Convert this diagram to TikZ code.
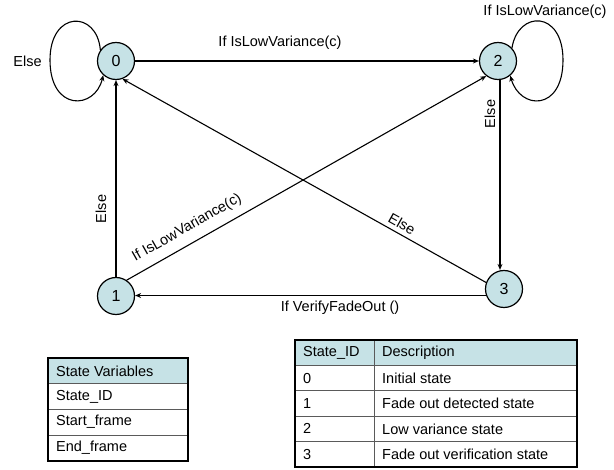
\documentclass[tikz,border=0pt]{standalone}
\usepackage{fontspec}
\setmainfont{Liberation Sans}
\usetikzlibrary{arrows.meta}
\definecolor{statefill}{RGB}{198,226,230}
\definecolor{gridline}{RGB}{90,90,90}
\newcommand{\lblfont}{\fontsize{14.5}{17}\selectfont}
\begin{document}
\begin{tikzpicture}[x=1pt,y=-1pt,
  state/.style={circle,draw,line width=1.2pt,fill=statefill,minimum size=37pt,inner sep=0pt,font=\fontsize{16}{18}\selectfont},
  trans/.style={line width=1.1pt,-{Stealth[length=6pt,width=5pt]}},
  lbl/.style={font=\lblfont,inner sep=1pt},
  cell/.style={anchor=west,font=\lblfont,inner sep=0pt},
  outerframe/.style={line width=1.8pt},
  innerline/.style={line width=0.8pt,gridline}
]
\useasboundingbox (0,0) rectangle (614,470);

% states
\node[state] (n0) at (116,61) {0};
\node[state] (n2) at (498,61) {2};
\node[state] (n1) at (116,296) {1};
\node[state] (n3) at (504,289) {3};

% transitions
\draw[trans] (n0) -- (n2);
\node[lbl] (t02) at (280,43) {If IsLowVariance(c)};

\draw[trans] (n0.145) .. controls (97,10) and (50,10) .. (50,60)
   .. controls (50,112) and (95,110) .. (n0.228);
\node[lbl] (t00) at (27.5,61) {Else};

\draw[trans] (n2.43) .. controls (518,10) and (563,10) .. (563,60)
   .. controls (563,112) and (520,110) .. (n2.310);
\node[lbl] (t22) at (545,12) {If IsLowVariance(c)};

\draw[trans] (n1) -- (n0);
\node[lbl,rotate=90] (t10) at (101,209) {Else};

\draw[trans] (n1.56) -- (n2.232);
\node[lbl,rotate=29.6] (t12) at (187,228) {If IsLowVariance(c)};

\draw[trans] (n3.160) -- (n0.290);
\node[lbl,rotate=-29.3] (t30) at (402,224) {Else};

\draw[trans] (n2.-84) -- (n2.-84 |- n3.north);
\node[lbl,rotate=90] (t23) at (490,114) {Else};

\draw[trans] (n3.200) -- (n3.200 -| n1.east);
\node[lbl] (t31) at (340,308) {If VerifyFadeOut ()};

% state variables table
\fill[statefill] (48,358) rectangle (188,383.5);
\draw[innerline] (48,383.5) -- (188,383.5) (48,409) -- (188,409) (48,435) -- (188,435);
\draw[outerframe] (48,358) rectangle (188,461);
\node[cell] (v0) at (56,371) {State Variables};
\node[cell] (v1) at (56,396.5) {State\_ID};
\node[cell] (v2) at (56,422) {Start\_frame};
\node[cell] (v3) at (56,448) {End\_frame};

% state description table
\fill[statefill] (295,340) rectangle (577,365.4);
\draw[innerline] (295,365.4) -- (577,365.4) (295,390.8) -- (577,390.8)
   (295,416.2) -- (577,416.2) (295,441.6) -- (577,441.6) (374,340) -- (374,467);
\draw[outerframe] (295,340) rectangle (577,467);
\node[cell] (h0) at (303,352.7) {State\_ID};
\node[cell] (h1) at (382,352.7) {Description};
\node[cell] (a0) at (303,378.1) {0};
\node[cell] (b0) at (382,378.1) {Initial state};
\node[cell] (a1) at (303,403.5) {1};
\node[cell] (b1) at (382,403.5) {Fade out detected state};
\node[cell] (a2) at (303,428.9) {2};
\node[cell] (b2) at (382,428.9) {Low variance state};
\node[cell] (a3) at (303,454.3) {3};
\node[cell] (b3) at (382,454.3) {Fade out verification state};
\end{tikzpicture}
\end{document}
